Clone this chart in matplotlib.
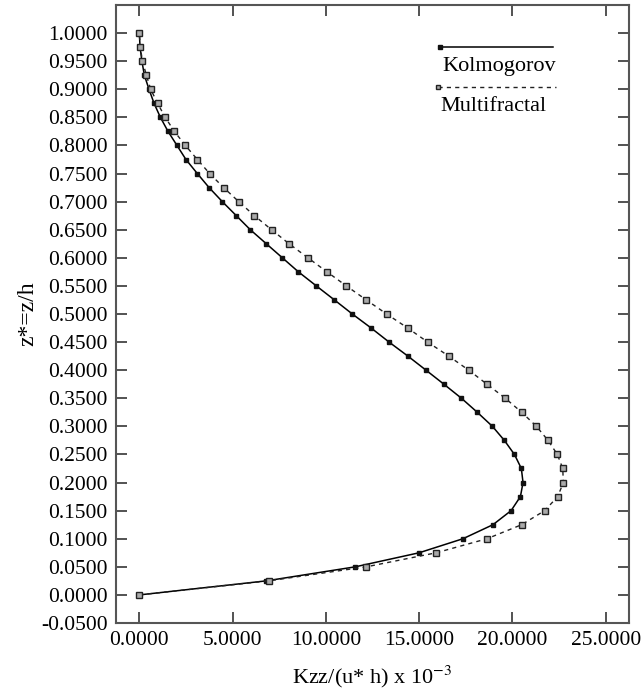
import numpy as np
import matplotlib
matplotlib.use('Agg')
import matplotlib.pyplot as plt
from matplotlib.ticker import FormatStrFormatter

plt.rcParams['font.family'] = ['Liberation Serif', 'DejaVu Serif']
plt.rcParams['mathtext.fontset'] = 'stix'

# height z* = z/h, step 0.025
z = [i * 0.025 for i in range(41)]

kolmogorov = [0.00, 6.81, 11.58, 15.00, 17.35, 18.96, 19.93, 20.43, 20.57, 20.48,
              20.11, 19.57, 18.93, 18.12, 17.27, 16.33, 15.37, 14.40, 13.39, 12.43,
              11.42, 10.46, 9.49, 8.53, 7.67, 6.81, 5.95, 5.20, 4.45, 3.74,
              3.11, 2.50, 2.02, 1.54, 1.13, 0.79, 0.52, 0.27, 0.14, 0.04, 0.00]

multifractal = [0.00, 6.93, 12.17, 15.92, 18.64, 20.50, 21.73, 22.43, 22.73, 22.70,
                22.41, 21.91, 21.29, 20.50, 19.62, 18.64, 17.66, 16.59, 15.46, 14.39,
                13.26, 12.17, 11.10, 10.06, 9.04, 8.03, 7.09, 6.17, 5.33, 4.52,
                3.77, 3.11, 2.47, 1.88, 1.39, 0.98, 0.61, 0.38, 0.17, 0.05, 0.00]

x_ticks = [0, 5, 10, 15, 20, 25]
y_ticks = [round(-0.05 + 0.05 * i, 2) for i in range(22)]

fig = plt.figure(figsize=(6.43, 6.95), dpi=100)
ax = fig.add_axes([0.1804, 0.1036, 0.7978, 0.8892])

ax.plot(kolmogorov, z, color='black', lw=1.1, marker='s', ms=3.5,
        mfc='#111111', mec='#111111')
ax.plot(multifractal, z, color='#222222', lw=1.0, ls=(0, (3, 3)), marker='s', ms=4.3,
        mfc='#aaaaaa', mec='#222222', mew=1.0)

ax.set_xlim(-1.25, 26.25)
ax.set_ylim(-0.05, 1.05)
ax.set_xticks(x_ticks)
ax.set_yticks(y_ticks)
ax.xaxis.set_major_formatter(FormatStrFormatter('%.4f'))
ax.yaxis.set_major_formatter(FormatStrFormatter('%.4f'))
ax.tick_params(direction='in', length=8, width=1.3, color='#444444',
               labelsize=15.5, top=True, right=True, pad=6)
for s in ax.spines.values():
    s.set_color('#555555')
    s.set_linewidth(1.5)

ax.set_xlabel('Kzz/(u* h) x 10$^{-3}$', fontsize=16, labelpad=10)
ax.set_ylabel('z*=z/h', fontsize=17, labelpad=2)

# legend: sample line above each label
ax.plot([0.632, 0.852], [0.932, 0.932], transform=ax.transAxes, color='black',
        lw=1.1, marker='s', ms=3.5, markevery=[0], mfc='#111111', mec='#111111')
ax.text(0.637, 0.900, 'Kolmogorov', transform=ax.transAxes, fontsize=16,
        va='center', ha='left')
ax.plot([0.628, 0.857], [0.867, 0.867], transform=ax.transAxes, color='#222222',
        lw=1.0, ls=(0, (3, 3)), marker='s', ms=3.5, markevery=[0],
        mfc='#aaaaaa', mec='#222222', mew=1.0)
ax.text(0.633, 0.836, 'Multifractal', transform=ax.transAxes, fontsize=16,
        va='center', ha='left')

fig.savefig('out.png', dpi=100)
